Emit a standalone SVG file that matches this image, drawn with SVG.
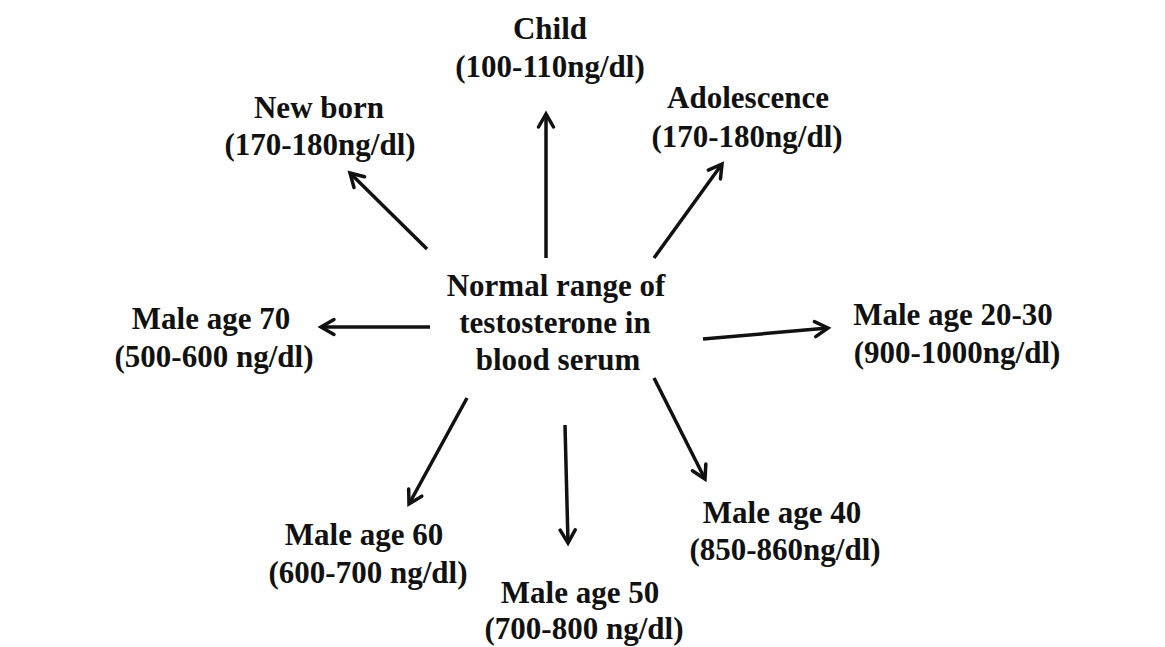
<svg xmlns="http://www.w3.org/2000/svg" width="1165" height="647" viewBox="0 0 1165 647">
<style>
text{font-family:"Liberation Serif","Times New Roman",serif;font-weight:bold;font-size:31px;fill:#111;text-anchor:middle}
.c line{stroke:#111;stroke-width:3.5;fill:none;marker-end:url(#ah)}
</style>
<defs>
<marker id="ah" markerUnits="userSpaceOnUse" viewBox="0 0 20 20" refX="16" refY="10" markerWidth="20" markerHeight="20" orient="auto">
<path d="M3,2.5 L16,10 L3,17.5" fill="none" stroke="#111" stroke-width="3.5" stroke-linecap="round" stroke-linejoin="miter"/>
</marker>
</defs>
<rect width="1165" height="647" fill="#fff"/>
<g class="c" id="connectors">
<line x1="427" y1="249" x2="350" y2="173"/>
<line x1="546" y1="258" x2="546" y2="114"/>
<line x1="654" y1="258" x2="722" y2="164"/>
<line x1="430" y1="327" x2="321" y2="327"/>
<line x1="703" y1="339" x2="828" y2="328"/>
<line x1="467" y1="398" x2="409" y2="504"/>
<line x1="565" y1="425" x2="568" y2="543"/>
<line x1="654" y1="378" x2="705" y2="479"/>
</g>
<g id="center"><text x="556" y="296">Normal range of</text><text x="555" y="333">testosterone in</text><text x="558" y="370">blood serum</text></g>
<g id="newborn"><text x="319" y="118">New born</text><text x="320" y="155">(170-180ng/dl)</text></g>
<g id="child"><text x="550" y="39">Child</text><text x="550" y="77">(100-110ng/dl)</text></g>
<g id="adolescence"><text x="748" y="108">Adolescence</text><text x="747" y="147">(170-180ng/dl)</text></g>
<g id="male70"><text x="211" y="329">Male age 70</text><text x="214" y="367">(500-600 ng/dl)</text></g>
<g id="male2030"><text x="953" y="325">Male age 20-30</text><text x="957" y="363">(900-1000ng/dl)</text></g>
<g id="male40"><text x="782" y="523">Male age 40</text><text x="785" y="560">(850-860ng/dl)</text></g>
<g id="male60"><text x="364" y="545">Male age 60</text><text x="368" y="583">(600-700 ng/dl)</text></g>
<g id="male50"><text x="580" y="603">Male age 50</text><text x="584" y="639">(700-800 ng/dl)</text></g>
</svg>
